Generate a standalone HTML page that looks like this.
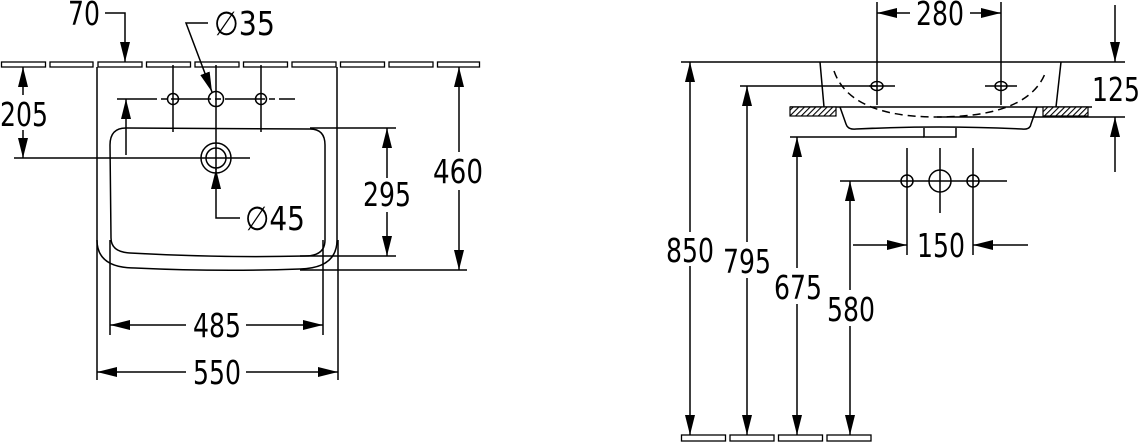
<!DOCTYPE html>
<html><head><meta charset="utf-8"><style>
html,body{margin:0;padding:0;background:#fff;width:1140px;height:445px;overflow:hidden}
svg text{font-family:"DejaVu Sans","Liberation Sans",sans-serif;font-size:33px;fill:#000}
</style></head><body>
<svg width="1140" height="445" viewBox="0 0 1140 445" xmlns="http://www.w3.org/2000/svg">
<defs>
<marker id="a" viewBox="0 0 20 10" refX="20" refY="5" markerWidth="20" markerHeight="10" markerUnits="userSpaceOnUse" orient="auto-start-reverse"><path d="M0,0 L20,5 L0,10 Z" fill="#000"/></marker>
<pattern id="h" width="4" height="4" patternUnits="userSpaceOnUse" patternTransform="rotate(45)"><rect width="4" height="4" fill="#fff"/><line x1="0" y1="0" x2="0" y2="4" stroke="#000" stroke-width="2.2"/></pattern>
</defs>
<g fill="none" stroke="#000" stroke-width="1.5">
<g stroke-width="1.3">
<rect x="1.5" y="62" width="44" height="5"/><rect x="50" y="62" width="43" height="5"/><rect x="98" y="62" width="44" height="5"/><rect x="146.5" y="62" width="44" height="5"/><rect x="195" y="62" width="44" height="5"/><rect x="243.5" y="62" width="44" height="5"/><rect x="292" y="62" width="44" height="5"/><rect x="340.5" y="62" width="44" height="5"/><rect x="389" y="62" width="44" height="5"/><rect x="437.5" y="62" width="42" height="5"/>
</g>
<path d="M97,67 L97,240 Q97,268 135,268 Q220,272 300,269 Q337,268 337,240 L337,67"/>
<line x1="97" y1="240" x2="97" y2="380"/><line x1="338" y1="240" x2="338" y2="380"/>
<path d="M126,128 L310,129 Q325,129 325,145 L325,240 Q325,256 305,256 Q220,258 130,253 Q111,252 111,238 L110,145 Q110,128 126,128 Z"/>
<line x1="110" y1="240" x2="110" y2="335"/><line x1="323" y1="240" x2="323" y2="335"/>
<circle cx="173" cy="99" r="5.5"/><circle cx="216" cy="99" r="7.5"/><circle cx="261" cy="99" r="5.5"/>
<line x1="117" y1="99" x2="295" y2="99" stroke-dasharray="40,4,6,4"/>
<line x1="173" y1="65" x2="173" y2="132"/><line x1="216" y1="65" x2="216" y2="170"/><line x1="261" y1="65" x2="261" y2="132"/>
<circle cx="216" cy="158" r="15"/><circle cx="216" cy="158" r="10"/>
<line x1="14" y1="158" x2="250" y2="158"/>
<polyline points="105,13 125,13 125,62" marker-end="url(#a)"/>
<line x1="126" y1="155" x2="126" y2="99" marker-end="url(#a)"/>
<polyline points="208,23 186,23 212,92" marker-end="url(#a)"/>
<polyline points="240,218 216,218 216,169" marker-end="url(#a)"/>
<line x1="23" y1="95" x2="23" y2="67" marker-end="url(#a)"/>
<line x1="23" y1="130" x2="23" y2="158" marker-end="url(#a)"/>
<line x1="310" y1="128" x2="396" y2="128"/><line x1="300" y1="256" x2="396" y2="256"/>
<line x1="387" y1="178" x2="387" y2="128" marker-end="url(#a)"/>
<line x1="387" y1="212" x2="387" y2="256" marker-end="url(#a)"/>
<line x1="300" y1="270" x2="467" y2="270"/>
<line x1="459" y1="152" x2="459" y2="67" marker-end="url(#a)"/>
<line x1="459" y1="190" x2="459" y2="270" marker-end="url(#a)"/>
<line x1="186" y1="325" x2="110" y2="325" marker-end="url(#a)"/>
<line x1="246" y1="325" x2="323" y2="325" marker-end="url(#a)"/>
<line x1="186" y1="372" x2="97" y2="372" marker-end="url(#a)"/>
<line x1="246" y1="372" x2="338" y2="372" marker-end="url(#a)"/>

<line x1="681" y1="62" x2="1125" y2="62"/>
<path d="M820,62 L824,107 M1061,62 L1056,107"/>
<line x1="790" y1="107" x2="1092" y2="107"/>
<rect x="790" y="107" width="46" height="9" fill="url(#h)" stroke-width="1.2"/>
<rect x="1043" y="107" width="45" height="9" fill="url(#h)" stroke-width="1.2"/>
<path d="M840,107 L846,124 Q848,130 856,129 Q940,125 1022,129 Q1030,130 1031,124 L1037,107"/>
<path d="M924,128 L924,137 L956,137 L956,128"/>
<line x1="790" y1="137" x2="924" y2="137"/>
<path d="M834,71 Q850,117 937,117 Q1030,117 1046,71" stroke-dasharray="8,5"/>
<line x1="937" y1="117" x2="1125" y2="117"/>
<ellipse cx="877" cy="86" rx="6" ry="4.5"/><ellipse cx="1001" cy="86" rx="6" ry="4.5"/>
<line x1="869" y1="86" x2="895" y2="86"/><line x1="985" y1="86" x2="1017" y2="86"/>
<line x1="877" y1="2" x2="877" y2="105"/><line x1="1001" y1="2" x2="1001" y2="105"/>
<line x1="740" y1="86" x2="877" y2="86"/>
<line x1="910" y1="13" x2="877" y2="13" marker-end="url(#a)"/>
<line x1="970" y1="13" x2="1001" y2="13" marker-end="url(#a)"/>
<line x1="1115" y1="5" x2="1115" y2="62" marker-end="url(#a)"/>
<line x1="1115" y1="172" x2="1115" y2="117" marker-end="url(#a)"/>
<line x1="840" y1="181" x2="1007" y2="181"/>
<circle cx="907" cy="181" r="6"/><circle cx="940" cy="181" r="11"/><circle cx="973" cy="181" r="6"/>
<line x1="907" y1="148" x2="907" y2="255"/><line x1="940" y1="148" x2="940" y2="213"/><line x1="973" y1="148" x2="973" y2="255"/>
<line x1="853" y1="245" x2="907" y2="245" marker-end="url(#a)"/>
<line x1="1028" y1="245" x2="973" y2="245" marker-end="url(#a)"/>
<line x1="690" y1="232" x2="690" y2="62" marker-end="url(#a)"/>
<line x1="690" y1="266" x2="690" y2="435" marker-end="url(#a)"/>
<line x1="747" y1="242" x2="747" y2="86" marker-end="url(#a)"/>
<line x1="747" y1="278" x2="747" y2="435" marker-end="url(#a)"/>
<line x1="797" y1="268" x2="797" y2="137" marker-end="url(#a)"/>
<line x1="797" y1="304" x2="797" y2="435" marker-end="url(#a)"/>
<line x1="850" y1="290" x2="850" y2="181" marker-end="url(#a)"/>
<line x1="850" y1="326" x2="850" y2="435" marker-end="url(#a)"/>
<g stroke-width="1.3">
<rect x="681.5" y="435" width="44" height="6"/><rect x="730" y="435" width="44" height="6"/><rect x="778.5" y="435" width="44" height="6"/><rect x="827" y="435" width="44" height="6"/>
</g>
</g>
<g>
<text x="68" y="25" textLength="32" lengthAdjust="spacingAndGlyphs">70</text>
<text x="214" y="35" textLength="61" lengthAdjust="spacingAndGlyphs">∅35</text>
<text x="0" y="126" textLength="48" lengthAdjust="spacingAndGlyphs">205</text>
<text x="245" y="230" textLength="60" lengthAdjust="spacingAndGlyphs">∅45</text>
<text x="363" y="206" textLength="48" lengthAdjust="spacingAndGlyphs">295</text>
<text x="433" y="183" textLength="50" lengthAdjust="spacingAndGlyphs">460</text>
<text x="193" y="337" textLength="48" lengthAdjust="spacingAndGlyphs">485</text>
<text x="193" y="384" textLength="48" lengthAdjust="spacingAndGlyphs">550</text>
<text x="916" y="25" textLength="48" lengthAdjust="spacingAndGlyphs">280</text>
<text x="1092" y="101" textLength="48" lengthAdjust="spacingAndGlyphs">125</text>
<text x="666" y="262" textLength="48" lengthAdjust="spacingAndGlyphs">850</text>
<text x="723" y="273" textLength="48" lengthAdjust="spacingAndGlyphs">795</text>
<text x="774" y="299" textLength="48" lengthAdjust="spacingAndGlyphs">675</text>
<text x="827" y="321" textLength="48" lengthAdjust="spacingAndGlyphs">580</text>
<text x="917" y="257" textLength="48" lengthAdjust="spacingAndGlyphs">150</text>
</g>
</svg>
</body></html>
